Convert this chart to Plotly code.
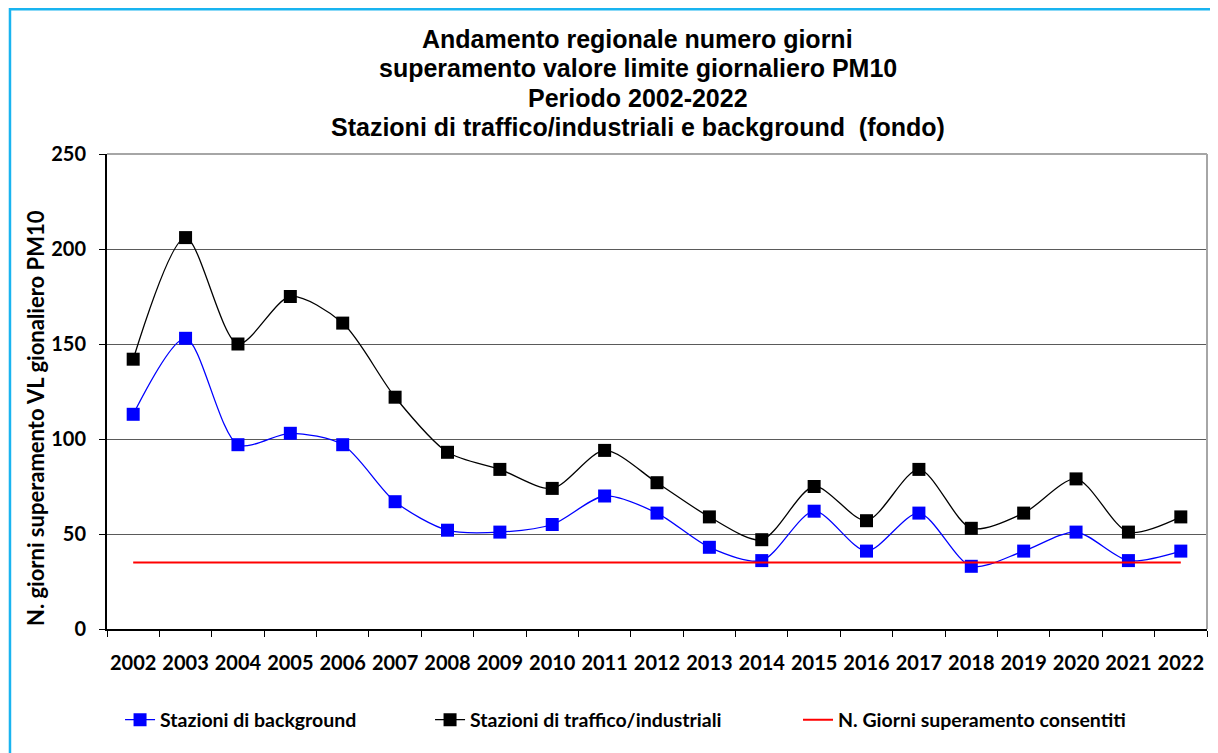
import plotly.graph_objects as go

years = [str(y) for y in range(2002, 2023)]
background = [113, 153, 97, 103, 97, 67, 52, 51, 55, 70, 61, 43, 36, 62, 41, 61, 33, 41, 51, 36, 41]
traffico = [142, 206, 150, 175, 161, 122, 93, 84, 74, 94, 77, 59, 47, 75, 57, 84, 53, 61, 79, 51, 59]
consentiti = [35] * len(years)

title_lines = [
    "Andamento regionale numero giorni",
    "superamento valore limite giornaliero PM10",
    "Periodo 2002-2022",
    "Stazioni di traffico/industriali e background  (fondo)",
]
y_title = "N. giorni superamento VL gionaliero PM10"
legend_names = ["Stazioni di background", "Stazioni di traffico/industriali", "N. Giorni superamento consentiti"]

LFONT = "Lato"
TFONT = "Liberation Sans, Arial, sans-serif"
fig = go.Figure()
fig.add_trace(go.Scatter(
    x=years, y=background, name=legend_names[0], mode="lines+markers",
    line=dict(color="#0000FF", width=1.3, shape="spline", smoothing=0.8),
    marker=dict(symbol="square", size=13, color="#0000FF"), legend="legend"))
fig.add_trace(go.Scatter(
    x=years, y=traffico, name=legend_names[1], mode="lines+markers",
    line=dict(color="#000000", width=1.3, shape="spline", smoothing=0.8),
    marker=dict(symbol="square", size=13, color="#000000"), legend="legend2"))
fig.add_trace(go.Scatter(
    x=years, y=consentiti, name=legend_names[2], mode="lines",
    line=dict(color="#FF0000", width=2), legend="legend3"))

legend_common = dict(orientation="h", yref="container", yanchor="middle", y=0.0443,
                     xref="container", xanchor="left",
                     font=dict(family=LFONT, size=19.5, color="black", weight="bold"),
                     bgcolor="rgba(0,0,0,0)")

title_y = [1.2421, 1.1811, 1.1189, 1.0568]
annotations = [
    dict(text=line, xref="paper", yref="paper", x=0.4827, y=ty,
         xanchor="center", yanchor="middle", showarrow=False,
         font=dict(family=TFONT, size=25, color="black", weight="bold"))
    for line, ty in zip(title_lines, title_y)
]
annotations.append(
    dict(text=y_title, xref="paper", yref="paper", x=-0.0655, y=0.444, textangle=-90,
         xanchor="center", yanchor="middle", showarrow=False,
         font=dict(family=LFONT, size=22, color="black", weight="bold")))

fig.update_layout(
    width=1210, height=745,
    margin=dict(l=99, r=11, t=146, b=124, autoexpand=False),
    paper_bgcolor="white", plot_bgcolor="white",
    showlegend=True,
    legend=dict(legend_common, x=0.0926),
    legend2=dict(legend_common, x=0.3488),
    legend3=dict(legend_common, x=0.6529),
    annotations=annotations,
    xaxis=dict(
        type="category", range=[-0.5, len(years) - 0.5], autorange=False,
        showgrid=False, showline=True, linecolor="black", linewidth=2,
        ticks="outside", tickson="boundaries", ticklen=6, tickcolor="black", tickangle=0,
        automargin=False,
        tickfont=dict(family=LFONT, size=20, color="black", weight="bold"), ticklabelstandoff=15),
    yaxis=dict(
        range=[0, 250], dtick=50, showgrid=True, gridcolor="#5a5a5a", gridwidth=1.3,
        showline=True, linecolor="black", linewidth=2, ticks="outside", ticklen=6,
        tickcolor="black", zeroline=False, automargin=False, ticklabelstandoff=9,
        tickfont=dict(family=LFONT, size=20, color="black", weight="bold")),
    shapes=[
        dict(type="rect", xref="paper", yref="paper", x0=-0.0882, x1=1.5, y0=-1, y1=1.305,
             line=dict(color="#19B4F0", width=2.5), fillcolor="rgba(0,0,0,0)", layer="below"),
        dict(type="line", xref="paper", yref="paper", x0=0, x1=1, y0=1, y1=1,
             line=dict(color="#A6A6A6", width=2)),
        dict(type="line", xref="paper", yref="paper", x0=1, x1=1, y0=0, y1=1,
             line=dict(color="#A6A6A6", width=2)),
    ],
)

fig.write_html("out.html")
